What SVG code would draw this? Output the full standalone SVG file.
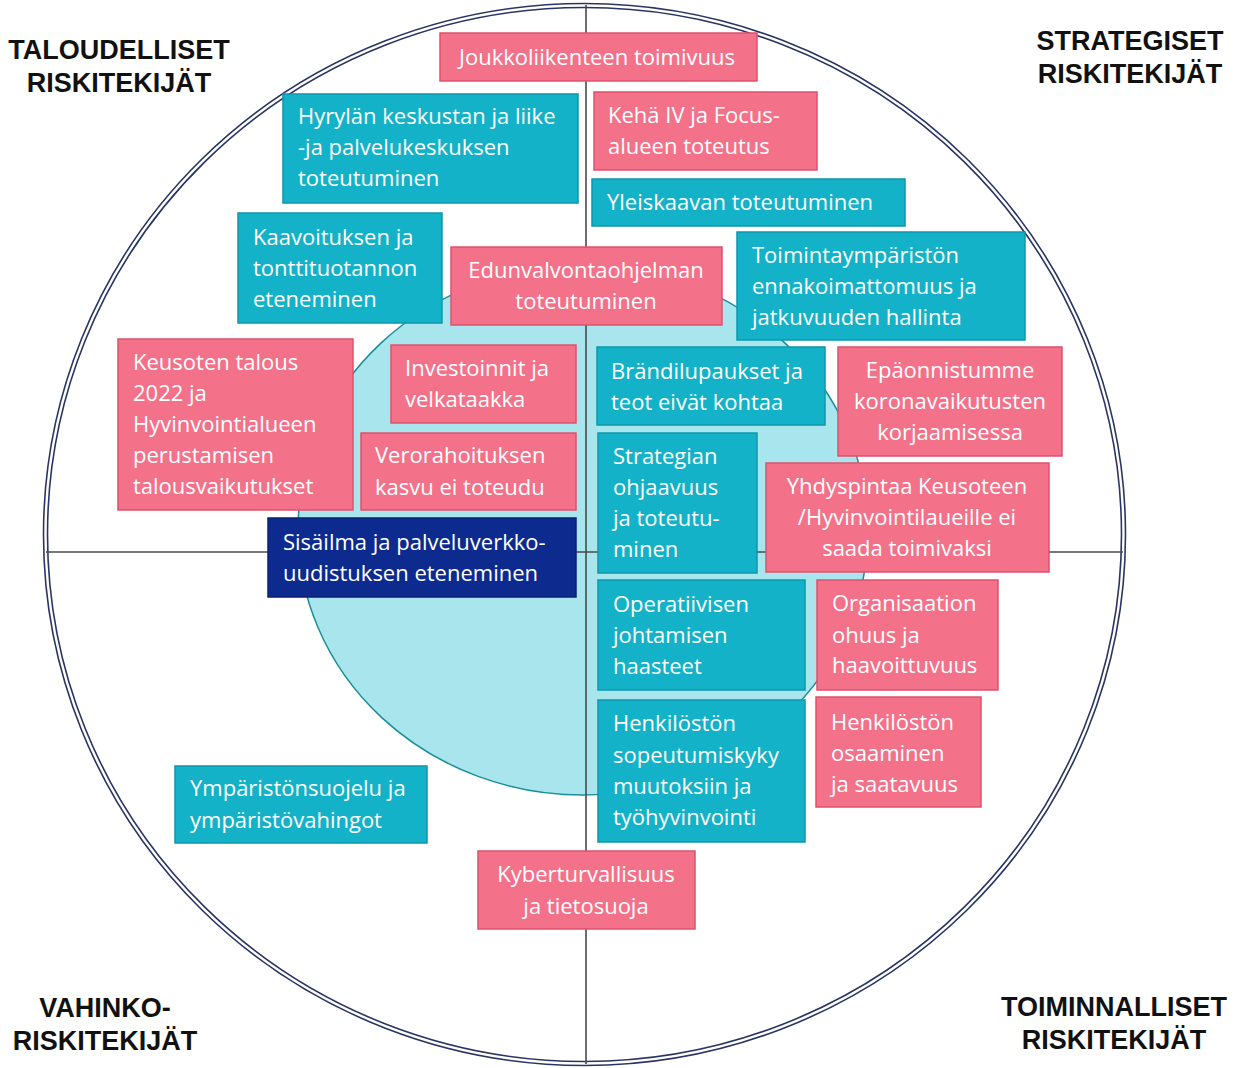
<svg xmlns="http://www.w3.org/2000/svg" width="1248" height="1068" viewBox="0 0 1248 1068">
<style>
.pink{fill:#f4718a;stroke:#e0506d;stroke-width:1.5}
.teal{fill:#13b2c8;stroke:#0e97aa;stroke-width:1.5}
.navy{fill:#0d2b8e;stroke:#0a2070;stroke-width:1.5}
.t{font-family:"Open Sans","Noto Sans","Liberation Sans",sans-serif;font-size:22px;fill:#ffffff}
.c{text-anchor:middle}
.h{font-family:"Liberation Sans",Arial,sans-serif;font-weight:bold;font-size:27px;fill:#111111;text-anchor:middle}
.ring{fill:none;stroke:#2b3563;stroke-width:1.6}
.axis{stroke:#4a4a4a;stroke-width:1.6}
</style>
<rect width="1248" height="1068" fill="#ffffff"/>
<g id="background">
<ellipse class="ring" cx="584.5" cy="534.5" rx="541" ry="531"/>
<ellipse class="ring" cx="584.5" cy="534.5" rx="537" ry="527"/>
<ellipse cx="583" cy="530" rx="285" ry="265" fill="#a9e5ed" stroke="#1a8f9a" stroke-width="1.5"/>
</g>
<g id="connectors">
<line class="axis" x1="586" y1="5" x2="586" y2="1064"/>
<line class="axis" x1="46" y1="552" x2="1123" y2="552"/>
</g>
<g id="n1"><rect class="pink" x="440" y="33" width="317" height="48"/><text class="t c" x="597" y="65">Joukkoliikenteen toimivuus</text></g>
<g id="n2"><rect class="teal" x="283" y="94" width="295" height="109"/><text class="t" x="298" y="124">Hyrylän keskustan ja liike</text><text class="t" x="298" y="155">-ja palvelukeskuksen</text><text class="t" x="298" y="186">toteutuminen</text></g>
<g id="n3"><rect class="pink" x="594" y="92" width="223" height="78"/><text class="t" x="608" y="123">Kehä IV ja Focus-</text><text class="t" x="608" y="154">alueen toteutus</text></g>
<g id="n4"><rect class="teal" x="592" y="179" width="313" height="47"/><text class="t" x="607" y="210">Yleiskaavan toteutuminen</text></g>
<g id="n5"><rect class="teal" x="238" y="213" width="204" height="110"/><text class="t" x="253" y="245">Kaavoituksen ja</text><text class="t" x="253" y="276">tonttituotannon</text><text class="t" x="253" y="307">eteneminen</text></g>
<g id="n6"><rect class="pink" x="451" y="247" width="271" height="78"/><text class="t c" x="586" y="278">Edunvalvontaohjelman</text><text class="t c" x="586" y="309">toteutuminen</text></g>
<g id="n7"><rect class="teal" x="737" y="232" width="288" height="108"/><text class="t" x="752" y="263">Toimintaympäristön</text><text class="t" x="752" y="294">ennakoimattomuus ja</text><text class="t" x="752" y="325">jatkuvuuden hallinta</text></g>
<g id="n8"><rect class="pink" x="118" y="339" width="235" height="171"/><text class="t" x="133" y="370">Keusoten talous</text><text class="t" x="133" y="401">2022 ja</text><text class="t" x="133" y="432">Hyvinvointialueen</text><text class="t" x="133" y="463">perustamisen</text><text class="t" x="133" y="494">talousvaikutukset</text></g>
<g id="n9"><rect class="pink" x="391" y="345" width="185" height="78"/><text class="t" x="405" y="376">Investoinnit ja</text><text class="t" x="405" y="407">velkataakka</text></g>
<g id="n10"><rect class="teal" x="597" y="347" width="228" height="78"/><text class="t" x="611" y="379">Brändilupaukset ja</text><text class="t" x="611" y="410">teot eivät kohtaa</text></g>
<g id="n11"><rect class="pink" x="838" y="347" width="224" height="109"/><text class="t c" x="950" y="378">Epäonnistumme</text><text class="t c" x="950" y="409">koronavaikutusten</text><text class="t c" x="950" y="440">korjaamisessa</text></g>
<g id="n12"><rect class="pink" x="361" y="433" width="215" height="77"/><text class="t" x="375" y="463">Verorahoituksen</text><text class="t" x="375" y="495">kasvu ei toteudu</text></g>
<g id="n13"><rect class="teal" x="598" y="433" width="159" height="140"/><text class="t" x="613" y="464">Strategian</text><text class="t" x="613" y="495">ohjaavuus</text><text class="t" x="613" y="526">ja toteutu-</text><text class="t" x="613" y="557">minen</text></g>
<g id="n14"><rect class="pink" x="766" y="463" width="283" height="109"/><text class="t c" x="907" y="494">Yhdyspintaa Keusoteen</text><text class="t c" x="907" y="525">/Hyvinvointilaueille ei</text><text class="t c" x="907" y="556">saada toimivaksi</text></g>
<g id="n15"><rect class="navy" x="268" y="518" width="308" height="79"/><text class="t" x="283" y="550">Sisäilma ja palveluverkko-</text><text class="t" x="283" y="581">uudistuksen eteneminen</text></g>
<g id="n16"><rect class="teal" x="598" y="580" width="207" height="110"/><text class="t" x="613" y="612">Operatiivisen</text><text class="t" x="613" y="643">johtamisen</text><text class="t" x="613" y="674">haasteet</text></g>
<g id="n17"><rect class="pink" x="817" y="580" width="181" height="110"/><text class="t" x="832" y="611">Organisaation</text><text class="t" x="832" y="643">ohuus ja</text><text class="t" x="832" y="673">haavoittuvuus</text></g>
<g id="n18"><rect class="teal" x="598" y="700" width="207" height="142"/><text class="t" x="613" y="731">Henkilöstön</text><text class="t" x="613" y="763">sopeutumiskyky</text><text class="t" x="613" y="794">muutoksiin ja</text><text class="t" x="613" y="825">työhyvinvointi</text></g>
<g id="n19"><rect class="pink" x="816" y="697" width="165" height="110"/><text class="t" x="831" y="730">Henkilöstön</text><text class="t" x="831" y="761">osaaminen</text><text class="t" x="831" y="792">ja saatavuus</text></g>
<g id="n20"><rect class="teal" x="175" y="766" width="252" height="77"/><text class="t" x="190" y="796">Ympäristönsuojelu ja</text><text class="t" x="190" y="828">ympäristövahingot</text></g>
<g id="n21"><rect class="pink" x="478" y="851" width="217" height="78"/><text class="t c" x="586" y="882">Kyberturvallisuus</text><text class="t c" x="586" y="914">ja tietosuoja</text></g>
<g id="labels">
<text class="h" x="119" y="59">TALOUDELLISET</text><text class="h" x="119" y="92">RISKITEKIJÄT</text>
<text class="h" x="1130" y="50">STRATEGISET</text><text class="h" x="1130" y="83">RISKITEKIJÄT</text>
<text class="h" x="105" y="1017">VAHINKO-</text><text class="h" x="105" y="1050">RISKITEKIJÄT</text>
<text class="h" x="1114" y="1016">TOIMINNALLISET</text><text class="h" x="1114" y="1049">RISKITEKIJÄT</text>
</g>
</svg>
